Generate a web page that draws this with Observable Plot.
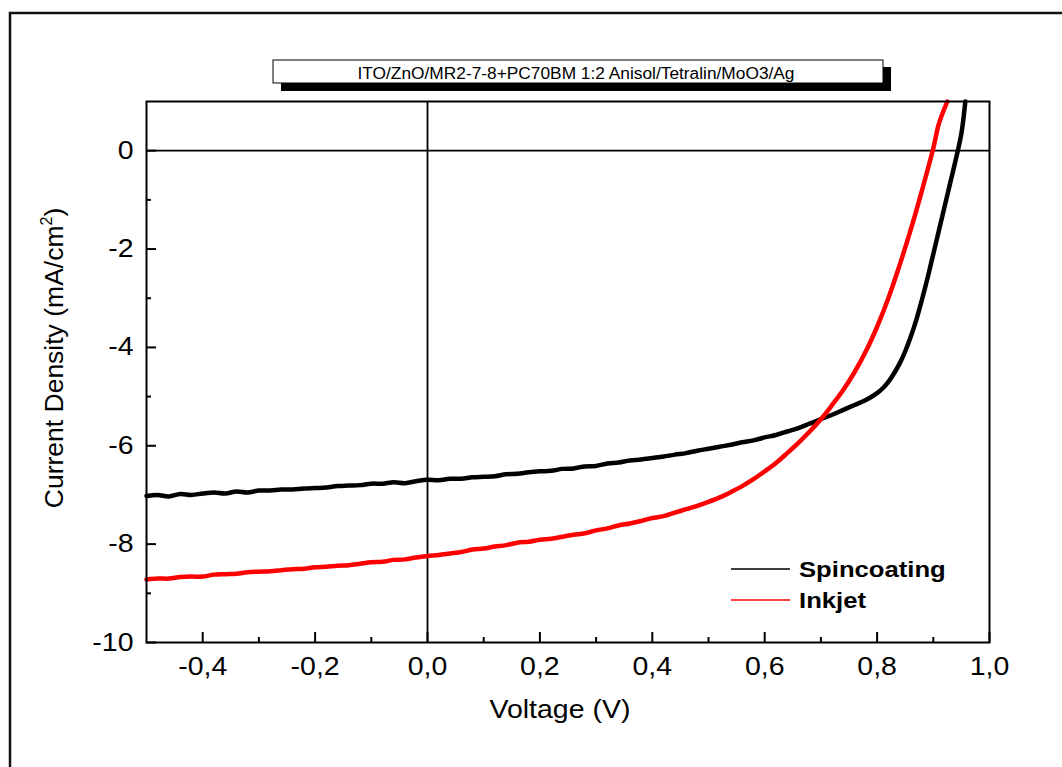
<!DOCTYPE html>
<html><head><meta charset="utf-8">
<script src="https://cdn.jsdelivr.net/npm/d3@7"></script>
<script src="https://cdn.jsdelivr.net/npm/@observablehq/plot@0.6"></script>
<style>html,body{margin:0;padding:0;background:#fff;} #chart{width:1062px;height:767px;overflow:hidden;position:relative;}</style>
</head><body><div id="chart"></div>
<script>
const seriesNames = ["Spincoating", "Inkjet"];
const seriesColors = ["#000000", "#ff0000"];
const titleText = "ITO/ZnO/MR2-7-8+PC70BM 1:2 Anisol/Tetralin/MoO3/Ag";
const xLabel = "Voltage (V)";
const yLabelMain = "Current Density (mA/cm";

const spinVoltage = [-0.50,-0.48,-0.46,-0.44,-0.42,-0.40,-0.38,-0.36,-0.34,-0.32,
  -0.30,-0.28,-0.26,-0.24,-0.22,-0.20,-0.18,-0.16,-0.14,-0.12,
  -0.10,-0.08,-0.06,-0.04,-0.02,0.00,0.02,0.04,0.06,0.08,
  0.10,0.12,0.14,0.16,0.18,0.20,0.22,0.24,0.26,0.28,
  0.30,0.32,0.34,0.36,0.38,0.40,0.42,0.44,0.46,0.48,
  0.50,0.52,0.54,0.56,0.58,0.60,0.62,0.64,0.66,0.68,
  0.70,0.72,0.74,0.76,0.78,0.80,0.81,0.82,0.83,0.84,0.85,0.86,0.87,0.88,
  0.89,0.90,0.91,0.92,0.93,0.94,0.95,0.957];
const spinCurrent = [-7.02,-7.00,-7.03,-6.98,-7.00,-6.97,-6.95,-6.97,-6.93,-6.95,
  -6.91,-6.91,-6.89,-6.89,-6.87,-6.86,-6.85,-6.82,-6.81,-6.80,
  -6.77,-6.77,-6.74,-6.76,-6.72,-6.69,-6.70,-6.67,-6.67,-6.64,
  -6.63,-6.62,-6.58,-6.57,-6.54,-6.52,-6.51,-6.47,-6.46,-6.42,
  -6.41,-6.36,-6.34,-6.30,-6.28,-6.25,-6.22,-6.18,-6.15,-6.10,
  -6.06,-6.02,-5.98,-5.93,-5.89,-5.83,-5.78,-5.71,-5.64,-5.55,
  -5.46,-5.37,-5.27,-5.17,-5.07,-4.93,-4.83,-4.70,-4.53,-4.33,-4.08,-3.78,-3.43,-3.02,
  -2.58,-2.10,-1.62,-1.14,-0.66,-0.18,0.35,1.00];

const inkVoltage = [-0.50,-0.48,-0.46,-0.44,-0.42,-0.40,-0.38,-0.36,-0.34,-0.32,
  -0.30,-0.28,-0.26,-0.24,-0.22,-0.20,-0.18,-0.16,-0.14,-0.12,
  -0.10,-0.08,-0.06,-0.04,-0.02,0.00,0.02,0.04,0.06,0.08,
  0.10,0.12,0.14,0.16,0.18,0.20,0.22,0.24,0.26,0.28,
  0.30,0.32,0.34,0.36,0.38,0.40,0.42,0.44,0.46,0.48,
  0.50,0.52,0.54,0.56,0.58,0.60,0.62,0.64,0.66,0.68,
  0.70,0.72,0.74,0.76,0.78,0.80,0.82,0.84,0.86,0.88,
  0.90,0.91,0.925];
const inkCurrent = [-8.72,-8.70,-8.70,-8.67,-8.66,-8.66,-8.62,-8.61,-8.60,-8.57,
  -8.56,-8.55,-8.53,-8.51,-8.50,-8.47,-8.46,-8.44,-8.43,-8.40,
  -8.37,-8.36,-8.32,-8.31,-8.27,-8.24,-8.22,-8.19,-8.16,-8.11,
  -8.09,-8.05,-8.02,-7.97,-7.95,-7.91,-7.89,-7.85,-7.81,-7.78,
  -7.72,-7.68,-7.62,-7.58,-7.53,-7.47,-7.43,-7.36,-7.29,-7.22,
  -7.14,-7.05,-6.94,-6.82,-6.68,-6.52,-6.35,-6.15,-5.94,-5.71,
  -5.46,-5.17,-4.86,-4.50,-4.08,-3.58,-3.00,-2.33,-1.60,-0.80,
  0.05,0.55,1.00];

const xMajorTicks = [-0.4,-0.2,0.0,0.2,0.4,0.6,0.8,1.0];
const xMinorTicks = [-0.3,-0.1,0.1,0.3,0.5,0.7,0.9];
const yMajorTicks = [-10,-8,-6,-4,-2,0];
const yMinorTicks = [-9,-7,-5,-3,-1];

const data = [];
spinVoltage.forEach((v, i) => data.push({series: seriesNames[0], v, j: spinCurrent[i]}));
inkVoltage.forEach((v, i) => data.push({series: seriesNames[1], v, j: inkCurrent[i]}));

const W = 1062, H = 767, mL = 146, mR = 73, mT = 101, mB = 125;
const frameH = H - mT - mB, frameW = W - mL - mR;
const font = "'Liberation Sans', Arial, sans-serif";
const commaFmt = d => d.toFixed(1).replace(".", ",");

const chart = Plot.plot({
  width: W, height: H,
  marginLeft: mL, marginRight: mR, marginTop: mT, marginBottom: mB,
  style: {fontFamily: font, fontSize: "25px", color: "#000", background: "#fff", overflow: "visible"},
  x: {domain: [-0.5, 1.0]},
  y: {domain: [-10, 1]},
  color: {domain: seriesNames, range: seriesColors},
  marks: [
    Plot.ruleY([0], {stroke: "#000", strokeWidth: 1.8}),
    Plot.ruleX([0], {stroke: "#000", strokeWidth: 1.8}),
    Plot.line(data, {x: "v", y: "j", z: "series", stroke: "series", strokeWidth: 4.5, strokeLinejoin: "round", strokeLinecap: "round", curve: "catmull-rom"}),
    Plot.gridX(xMajorTicks, {stroke: "#000", strokeOpacity: 1, strokeWidth: 2, insetTop: frameH - 10}),
    Plot.gridX(xMinorTicks, {stroke: "#000", strokeOpacity: 1, strokeWidth: 2, insetTop: frameH - 5}),
    Plot.gridY(yMajorTicks, {stroke: "#000", strokeOpacity: 1, strokeWidth: 2, insetRight: frameW - 10}),
    Plot.gridY(yMinorTicks, {stroke: "#000", strokeOpacity: 1, strokeWidth: 2, insetRight: frameW - 5}),
    Plot.axisX(xMajorTicks, {tickSize: 0, tickPadding: 15, tickFormat: commaFmt, label: null, fontSize: 25}),
    Plot.axisY(yMajorTicks, {tickSize: 0, tickPadding: 13, tickFormat: d => String(d), label: null, fontSize: 25}),
    Plot.frame({stroke: "#000", strokeWidth: 2})
  ]
});

document.getElementById("chart").appendChild(chart);
const svg = d3.select(chart);

// outer frame (left and top edges visible)
svg.append("path").attr("d", "M10,767V13H1062").attr("fill", "none").attr("stroke", "#111").attr("stroke-width", 2.5);

// title box with shadow
svg.append("rect").attr("x", 281).attr("y", 67).attr("width", 610).attr("height", 24).attr("fill", "#000");
svg.append("rect").attr("x", 273).attr("y", 60).attr("width", 610).attr("height", 23).attr("fill", "#fff").attr("stroke", "#000").attr("stroke-width", 1);
svg.append("text").attr("x", 576).attr("y", 79).attr("text-anchor", "middle")
  .attr("font-family", font).attr("font-size", 16).attr("fill", "#000")
  .attr("textLength", 437).attr("lengthAdjust", "spacingAndGlyphs").text(titleText);

// legend
const legendY = [569, 600];
seriesNames.forEach((name, i) => {
  svg.append("line").attr("x1", 731).attr("x2", 790).attr("y1", legendY[i]).attr("y2", legendY[i])
    .attr("stroke", seriesColors[i]).attr("stroke-width", 1.6);
  svg.append("text").attr("class", "stretch").attr("x", 799).attr("y", legendY[i] + 8)
    .attr("text-anchor", "start")
    .attr("font-family", font).attr("font-size", 22.5).attr("font-weight", "bold").attr("fill", "#000").text(name);
});

// axis titles
svg.append("text").attr("class", "stretch").attr("x", 560).attr("y", 718).attr("text-anchor", "middle")
  .attr("font-family", font).attr("font-size", 25).attr("fill", "#000").text(xLabel);
const yl = svg.append("text").attr("transform", "translate(63,358) rotate(-90)").attr("text-anchor", "middle")
  .attr("font-family", font).attr("font-size", 26.5).attr("fill", "#000");
yl.append("tspan").text(yLabelMain);
yl.append("tspan").attr("dy", -11).attr("font-size", 16).text("2");
yl.append("tspan").attr("dy", 11).text(")");

// horizontal stretch of texts to match reference glyph proportions
const s = 1.14;
svg.selectAll('g[aria-label="x-axis tick label"] text, g[aria-label="y-axis tick label"] text, text.stretch').each(function() {
  const L = this.getComputedTextLength();
  this.setAttribute("textLength", L * s);
  this.setAttribute("lengthAdjust", "spacingAndGlyphs");
});
</script>
</body></html>
